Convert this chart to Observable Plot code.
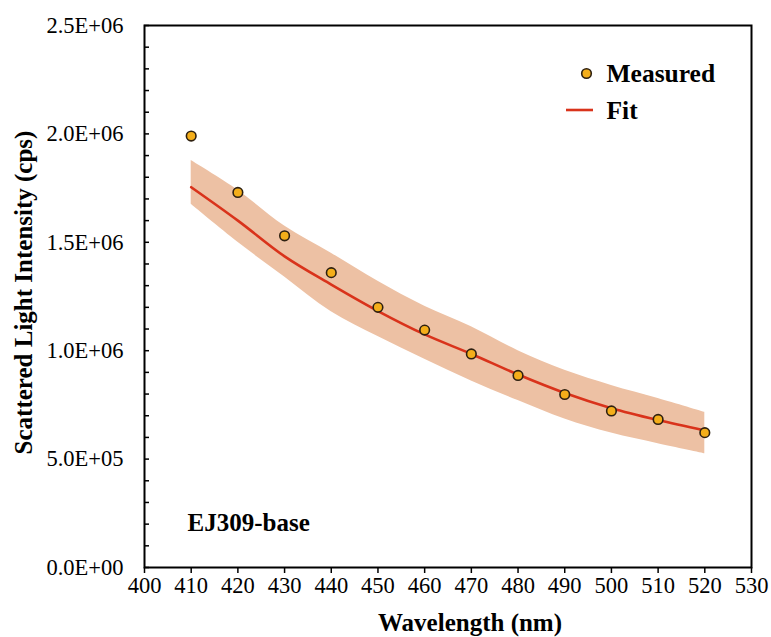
<!DOCTYPE html>
<html>
<head>
<meta charset="utf-8">
<script src="https://cdn.jsdelivr.net/npm/d3@7"></script>
<script src="https://cdn.jsdelivr.net/npm/@observablehq/plot@0.6"></script>
<style>
  html, body { margin: 0; padding: 0; background: #fff; }
  #chart { width: 771px; height: 637px; }
</style>
</head>
<body>
<div id="chart"></div>
<script>
// ---- data ----
const wavelength = [410, 420, 430, 440, 450, 460, 470, 480, 490, 500, 510, 520];
const measured   = [1.99e6, 1.73e6, 1.53e6, 1.36e6, 1.20e6, 1.095e6, 0.985e6, 0.886e6, 0.798e6, 0.722e6, 0.683e6, 0.622e6];
const fitValues  = [1.754e6, 1.600e6, 1.435e6, 1.305e6, 1.183e6, 1.075e6, 0.985e6, 0.890e6, 0.805e6, 0.735e6, 0.680e6, 0.632e6];
const bandUpper  = [1.877e6, 1.740e6, 1.575e6, 1.450e6, 1.320e6, 1.205e6, 1.110e6, 1.000e6, 0.910e6, 0.840e6, 0.780e6, 0.716e6];
const bandLower  = [1.675e6, 1.500e6, 1.340e6, 1.180e6, 1.065e6, 0.960e6, 0.860e6, 0.770e6, 0.685e6, 0.620e6, 0.571e6, 0.525e6];

const xTicks = [400, 410, 420, 430, 440, 450, 460, 470, 480, 490, 500, 510, 520, 530];
const yTickValues = [0, 5e5, 1e6, 1.5e6, 2e6, 2.5e6];
const yTickLabels = ["0.0E+00", "5.0E+05", "1.0E+06", "1.5E+06", "2.0E+06", "2.5E+06"];
const yMinorTicks = [0, 1e5, 2e5, 3e5, 4e5, 5e5, 6e5, 7e5, 8e5, 9e5, 1e6, 1.1e6, 1.2e6, 1.3e6, 1.4e6, 1.5e6, 1.6e6, 1.7e6, 1.8e6, 1.9e6, 2e6, 2.1e6, 2.2e6, 2.3e6, 2.4e6, 2.5e6];

const xLabel = "Wavelength (nm)";
const yLabel = "Scattered Light Intensity (cps)";
const sampleLabel = "EJ309-base";
const legendLabels = ["Measured", "Fit"];

const rows = wavelength.map((w, i) => ({w, m: measured[i], f: fitValues[i], hi: bandUpper[i], lo: bandLower[i]}));

// ---- layout ----
const W = 771, H = 637;
const mL = 144, mR = 20, mT = 25, mB = 70;
const plotW = W - mL - mR;
const FONT = "'Liberation Serif', 'Times New Roman', serif";

const colBand = "#edc1a4";
const colFit = "#d9331b";
const colDot = "#f4ae1a";
const colDotStroke = "#2e2010";

const chart = Plot.plot({
  width: W,
  height: H,
  marginLeft: mL,
  marginRight: mR,
  marginTop: mT,
  marginBottom: mB,
  style: {fontFamily: FONT, color: "black", background: "white", overflow: "visible"},
  x: {domain: [400, 530], axis: null, label: null},
  y: {domain: [0, 2.5e6], axis: null, label: null},
  marks: [
    Plot.areaY(rows, {x: "w", y1: "lo", y2: "hi", fill: colBand, curve: "catmull-rom"}),
    Plot.line(rows, {x: "w", y: "f", stroke: colFit, strokeWidth: 2.6, curve: "catmull-rom"}),
    Plot.dot(rows, {x: "w", y: "m", r: 4.8, fill: colDot, stroke: colDotStroke, strokeWidth: 1.6}),
    // y ticks (inward)
    Plot.tickY(yMinorTicks, {y: d => d, insetRight: plotW - 5, stroke: "black", strokeWidth: 1.5}),
    // y tick labels
    Plot.axisY(yTickValues, {anchor: "left", label: null, tickSize: 0, tickPadding: 21, fontSize: 22.5,
      tickFormat: d => yTickLabels[yTickValues.indexOf(d)]}),
    // x ticks + labels
    Plot.axisX(xTicks, {anchor: "bottom", label: null, tickSize: 6, tickPadding: 4, fontSize: 22.5, strokeWidth: 1.5,
      tickFormat: d => String(d)}),
    Plot.frame({stroke: "black", strokeWidth: 2}),
    // axis titles
    Plot.text([xLabel], {text: d => d, frameAnchor: "bottom", lineAnchor: "middle", textAnchor: "middle", dx: 22, dy: 55, fontSize: 25, fontWeight: "bold", fill: "black"}),
    Plot.text([yLabel], {text: d => d, frameAnchor: "left", lineAnchor: "middle", textAnchor: "middle", rotate: -90, dx: -121, dy: -4, fontSize: 25, fontWeight: "bold", fill: "black"}),
    // sample label
    Plot.text([sampleLabel], {text: d => d, frameAnchor: "bottom-left", lineAnchor: "middle", textAnchor: "start", dx: 43, dy: -45, fontSize: 25, fontWeight: "bold", fill: "black"}),
    // legend
    Plot.dot([legendLabels[0]], {frameAnchor: "top-left", dx: 442, dy: 48, r: 4.8, fill: colDot, stroke: colDotStroke, strokeWidth: 1.6}),
    Plot.text([legendLabels[0]], {text: d => d, frameAnchor: "top-left", lineAnchor: "middle", textAnchor: "start", dx: 462, dy: 48, fontSize: 25.5, fontWeight: "bold", fill: "black"}),
    Plot.text([legendLabels[1]], {text: d => d, frameAnchor: "top-left", lineAnchor: "middle", textAnchor: "start", dx: 462, dy: 85, fontSize: 25.5, fontWeight: "bold", fill: "black"})
  ]
});

// legend line sample for "Fit"
d3.select(chart).append("line")
  .attr("x1", mL + 422).attr("x2", mL + 449)
  .attr("y1", mT + 85).attr("y2", mT + 85)
  .attr("stroke", colFit).attr("stroke-width", 2.6);

document.getElementById("chart").appendChild(chart);
</script>
</body>
</html>
